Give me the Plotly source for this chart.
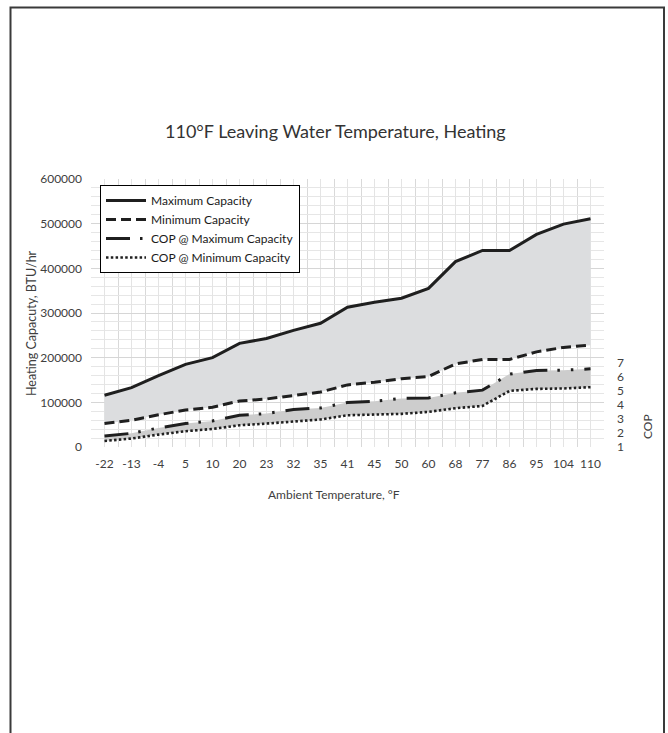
import plotly.graph_objects as go

# ---- data ----
categories = ["-22", "-13", "-4", "5", "10", "20", "23", "32", "35", "41",
              "45", "50", "60", "68", "77", "86", "95", "104", "110"]
max_capacity = [116000, 133000, 160000, 185000, 200000, 232000, 243000, 261000, 277000, 313000,
                324000, 333000, 355000, 415000, 440000, 440000, 476000, 499000, 511000]
min_capacity = [52500, 60000, 72000, 83000, 89000, 103000, 107500, 116000, 123000, 139000,
                145000, 153000, 158000, 186000, 196000, 196000, 213000, 223000, 228000]
cop_max = [1.78, 1.97, 2.35, 2.66, 2.85, 3.25, 3.37, 3.66, 3.77, 4.16,
           4.25, 4.44, 4.48, 4.84, 5.03, 6.17, 6.43, 6.45, 6.54]
cop_min = [1.43, 1.60, 1.88, 2.12, 2.28, 2.54, 2.66, 2.83, 2.95, 3.25,
           3.32, 3.35, 3.49, 3.75, 3.91, 4.98, 5.12, 5.15, 5.24]
cop_ticks = [1, 2, 3, 4, 5, 6, 7]

xs = list(range(len(categories)))
LINE = "#1f1f1f"
FONT = "Lato"

fig = go.Figure()

# capacity band
fig.add_trace(go.Scatter(x=xs, y=min_capacity, mode="lines", name="Minimum Capacity",
                         line=dict(color=LINE, width=3, dash="10px,5px"), legendrank=2))
fig.add_trace(go.Scatter(x=xs, y=max_capacity, mode="lines", line=dict(width=0),
                         fill="tonexty", fillcolor="#dcdddf", showlegend=False, hoverinfo="skip"))
fig.add_trace(go.Scatter(x=xs, y=max_capacity, mode="lines", name="Maximum Capacity",
                         line=dict(color=LINE, width=3), legendrank=1))

# COP band
fig.add_trace(go.Scatter(x=xs, y=cop_min, mode="lines", name="COP @ Minimum Capacity", yaxis="y2",
                         line=dict(color=LINE, width=2.6, dash="2.5px,2.3px"), legendrank=4))
fig.add_trace(go.Scatter(x=xs, y=cop_max, mode="lines", line=dict(width=0), yaxis="y2",
                         fill="tonexty", fillcolor="#cdcdcd", showlegend=False, hoverinfo="skip"))
fig.add_trace(go.Scatter(x=xs, y=cop_max, mode="lines", name="COP @ Maximum Capacity", yaxis="y2",
                         line=dict(color=LINE, width=3, dash="24px,10px,2.5px,11px,2.5px,11px"),
                         legendrank=3))

L, R, T, B = 91, 64, 179, 286
W, H = 668, 733
pw, ph = W - L - R, H - T - B


def px(x):
    return (x - L) / pw


def py(y):
    return (H - B - y) / ph


fig.update_layout(
    width=W, height=H,
    margin=dict(l=L, r=R, t=T, b=B, pad=0),
    paper_bgcolor="white", plot_bgcolor="white",
    font=dict(family=FONT, size=12, color="#404040"),
    xaxis=dict(range=[-0.5, len(categories) - 0.5], tickmode="array", tickvals=xs, ticktext=categories,
               showgrid=True, gridcolor="#e4e4e4", gridwidth=1, zeroline=False, showline=False,
               ticks="", ticklabelstandoff=8, tickfont=dict(size=12, color="#404040"),
               minor=dict(tickmode="array", tickvals=[i - 0.5 for i in range(len(categories) + 1)],
                          showgrid=True, gridcolor="#d9d9d9", gridwidth=1, ticks=""),
               fixedrange=True),
    yaxis=dict(range=[0, 600000], dtick=100000, tickformat="d", showgrid=True, gridcolor="#d6d6d6",
               gridwidth=1, zeroline=False, showline=False, ticks="", ticklabelstandoff=8,
               tickfont=dict(size=12, color="#404040"),
               minor=dict(dtick=20000, showgrid=True, gridcolor="#e6e6e6", gridwidth=1, ticks=""),
               fixedrange=True),
    yaxis2=dict(overlaying="y", side="right", range=[1, 20], tickmode="array", tickvals=cop_ticks,
                ticktext=[str(v) for v in cop_ticks], showgrid=False, zeroline=False, showline=False,
                ticks="", ticklabelstandoff=12, tickfont=dict(size=12, color="#404040"),
                fixedrange=True),
    legend=dict(x=px(100), y=py(185), xanchor="left", yanchor="top",
                bgcolor="white", bordercolor="#000000", borderwidth=1,
                font=dict(family=FONT, size=12, color="#1a1a1a"),
                itemwidth=40, traceorder="normal", tracegroupgap=0),
    showlegend=True,
)

fig.add_annotation(x=px(335.5), y=py(131), xref="paper", yref="paper", text="110°F Leaving Water Temperature, Heating",
                   showarrow=False, font=dict(family=FONT, size=18, color="#333333"), xanchor="center", yanchor="middle")
fig.add_annotation(x=px(334), y=py(494), xref="paper", yref="paper", text="Ambient Temperature, °F",
                   showarrow=False, font=dict(family=FONT, size=12, color="#404040"), xanchor="center", yanchor="middle")
fig.add_annotation(x=px(31), y=py(323), xref="paper", yref="paper", text="Heating Capacuty, BTU/hr",
                   textangle=-90, showarrow=False, font=dict(family=FONT, size=12.5, color="#404040"),
                   xanchor="center", yanchor="middle")
fig.add_annotation(x=px(647), y=py(427), xref="paper", yref="paper", text="COP",
                   textangle=-90, showarrow=False, font=dict(family=FONT, size=12, color="#404040"),
                   xanchor="center", yanchor="middle")

# page frame
fig.add_shape(type="path", xref="paper", yref="paper",
              path=f"M {px(10.5)} {py(745)} L {px(10.5)} {py(7.5)} L {px(664)} {py(7.5)} L {px(664)} {py(745)}",
              line=dict(color="#3a3a3a", width=2))

fig.write_html("out.html", config={"displayModeBar": False},
               post_script="document.body.style.margin='0px';document.body.style.overflow='hidden';")
